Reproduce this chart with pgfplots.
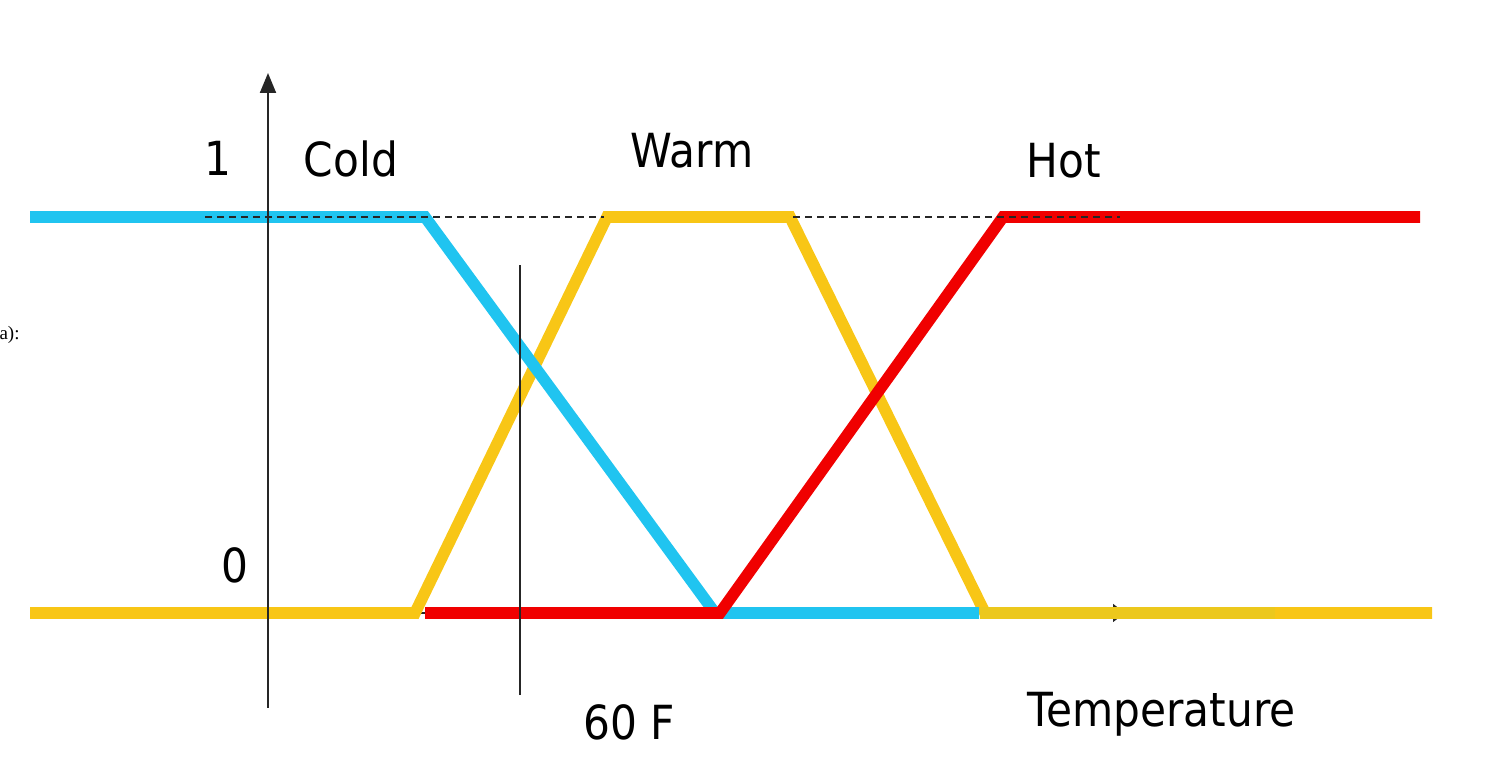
\documentclass[border=0pt]{standalone}
\usepackage{fontspec}
\setmainfont{DejaVu Sans}[FakeStretch=0.9]
\newfontfamily\serifsmall{Liberation Serif}
\usepackage{pgfplots}
\pgfplotsset{compat=1.18}
\usetikzlibrary{arrows.meta}
\definecolor{coldc}{RGB}{32,196,240}
\definecolor{warmc}{RGB}{248,198,22}
\definecolor{warmd}{RGB}{236,200,28}
\definecolor{hotc}{RGB}{240,0,0}
\begin{document}
\begin{tikzpicture}
\path[use as bounding box] (0,0) rectangle (752pt,387pt);
\begin{axis}[
  at={(0,0)}, anchor=south west,
  scale only axis, width=752pt, height=387pt,
  xmin=0, xmax=1504, ymin=-0.40657, ymax=1.54798,
  hide axis, clip=false,
  every axis plot/.append style={line cap=butt, line join=miter, no markers}
]
% horizontal axis (mostly hidden)
\addplot[black!85, line width=0.8pt, -{Triangle[length=6pt,width=9pt]}] coordinates {(268,0) (1125,0)};
% Warm
\addplot[warmc, line width=5.8pt] coordinates {(30,0) (415,0) (607,1) (790,1) (985,0) (1432,0)};
\addplot[warmd, line width=5.8pt] coordinates {(980,0) (1275,0)};
% Cold
\addplot[coldc, line width=5.8pt] coordinates {(30,1) (425,1) (715,0) (979,0)};
% Hot
\addplot[hotc, line width=5.8pt] coordinates {(425,0) (720,0) (1003,1) (1420,1)};
% dashed level line
\addplot[black!85, line width=0.8pt, dash pattern=on 3.5pt off 2.5pt] coordinates {(205,1) (604,1)};
\addplot[black!85, line width=0.8pt, dash pattern=on 3.5pt off 2.5pt] coordinates {(793,1) (1120,1)};
% vertical axis
\addplot[black!85, line width=1pt, -{Triangle[length=10pt,width=8pt]}] coordinates {(268,-0.2399) (268,1.3636)};
% 60 F marker line
\addplot[black!85, line width=0.8pt] coordinates {(520,-0.2071) (520,0.8788)};
% labels
\begin{scope}[every node/.style={font=\fontsize{23.5}{28}\selectfont, inner sep=0pt, anchor=base}]
\node at (axis cs:218,1.1035) {1};
\node at (axis cs:351,1.1010) {Cold};
\node at (axis cs:692,1.1237) {Warm};
\node at (axis cs:1064,1.0985) {Hot};
\node at (axis cs:235,0.0758) {0};
\node at (axis cs:629,-0.3207) {60 F};
\node at (axis cs:1161.5,-0.2879) {Temperature};
\end{scope}
\node[font=\serifsmall\fontsize{9.5}{11}\selectfont, inner sep=0pt, anchor=base east] at (axis cs:20,0.6894) {a):};
\end{axis}
\end{tikzpicture}
\end{document}
